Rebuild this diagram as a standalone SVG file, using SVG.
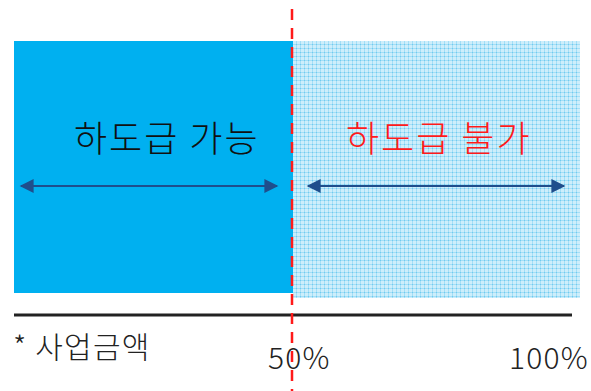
<svg xmlns="http://www.w3.org/2000/svg" width="591" height="391" viewBox="0 0 591 391">
<style>
.lbl{font-family:"Noto Sans CJK KR","Noto Sans",sans-serif;font-size:36px;font-weight:300;letter-spacing:2px}
.ax{font-family:"Noto Sans CJK KR","Noto Sans",sans-serif;font-size:30px;font-weight:300;fill:#222;letter-spacing:1.2px}
.arr{stroke:#1f4e8c;stroke-width:2;fill:none;marker-start:url(#ah);marker-end:url(#ah)}
</style>
<defs>
<pattern id="grid" width="4" height="4" patternUnits="userSpaceOnUse">
<rect width="4" height="4" fill="#cdeefb"/>
<rect x="0" y="0" width="4" height="1" fill="#a3def6"/>
<rect x="0" y="0" width="1" height="4" fill="#a3def6"/>
<rect x="0" y="0" width="1" height="1" fill="#6fcbf0"/>
</pattern>
<marker id="ah" viewBox="0 0 10 10" refX="9" refY="5" markerWidth="7.5" markerHeight="7" orient="auto-start-reverse" markerUnits="strokeWidth">
<path d="M0,0 L10,5 L0,10 Z" fill="#1f4e8c"/>
</marker>
</defs>
<g id="allowed">
<rect x="14" y="41" width="279" height="252" fill="#00b0f0"/>
<text class="lbl" x="74" y="152" fill="#111">하도급 가능</text>
</g>
<g id="not-allowed">
<rect x="293" y="41" width="287" height="257" fill="url(#grid)"/>
<text class="lbl" x="346" y="152" fill="#ff1a1a">하도급 불가</text>
</g>
<g id="axis">
<line x1="14" y1="315" x2="572" y2="315" stroke="#222" stroke-width="3"/>
<text class="ax" x="13" y="358">* 사업금액</text>
<text class="ax" x="268" y="369">50%</text>
<text class="ax" x="509" y="369">100%</text>
</g>
<g id="connectors">
<line class="arr" x1="21" y1="186" x2="277" y2="186"/>
<line class="arr" x1="308" y1="186" x2="564" y2="186"/>
<line x1="292" y1="9" x2="292" y2="391" stroke="#ff1a1a" stroke-width="2.5" stroke-dasharray="11,8"/>
</g>
</svg>
